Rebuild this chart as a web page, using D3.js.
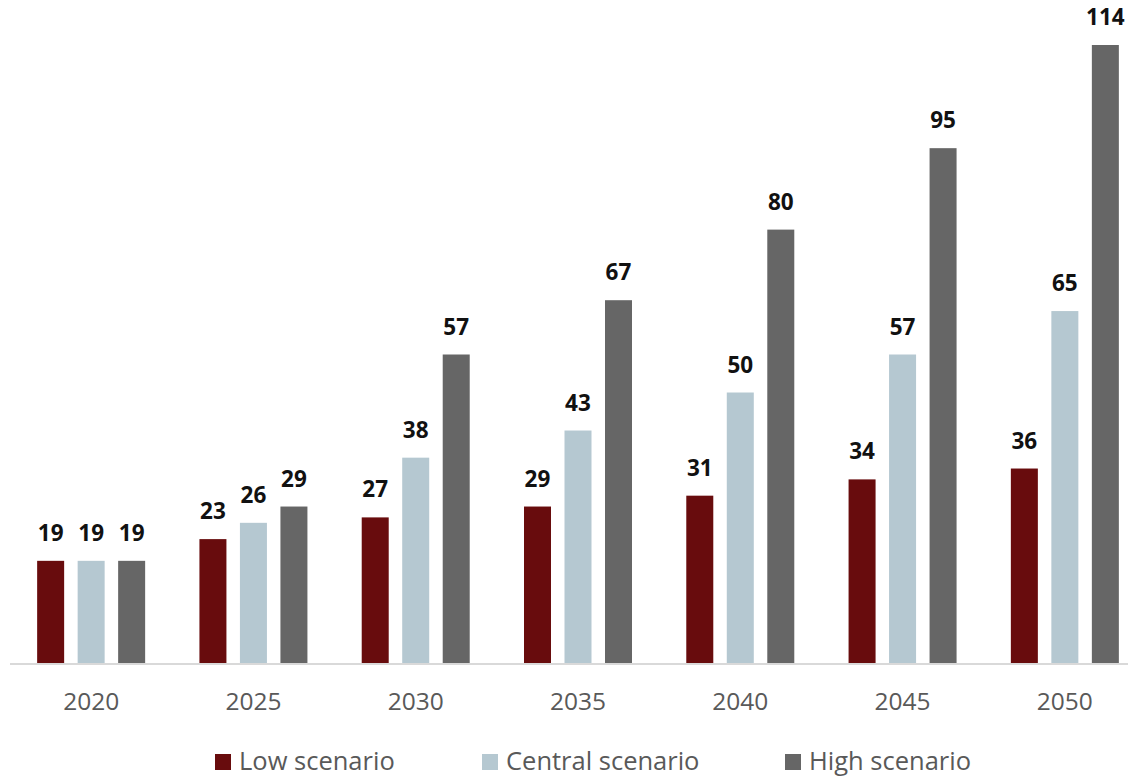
<!DOCTYPE html>
<html>
<head>
<meta charset="utf-8">
<style>
  body { margin: 0; background: #fff; }
  text { font-family: 'Open Sans', Lato, sans-serif; }
</style>
<script src="https://d3js.org/d3.v7.min.js"></script>
</head>
<body>
<svg id="chart" width="1128" height="776"></svg>
<script>
// data
var years = ["2020", "2025", "2030", "2035", "2040", "2045", "2050"];
var series = ["Low scenario", "Central scenario", "High scenario"];
var low = [19, 23, 27, 29, 31, 34, 36];
var central = [19, 26, 38, 43, 50, 57, 65];
var high = [19, 29, 57, 67, 80, 95, 114];
var colors = ["#680c0d", "#b5c8d1", "#666666"];

var values = [low, central, high];
var svg = d3.select("#chart");

var baseY = 664;
var x = d3.scaleBand().domain(years).range([10, 1146]);
var xs = d3.scaleBand().domain(series)
  .range([x.bandwidth()/2 - 54, x.bandwidth()/2 + 54])
  .paddingInner(1/3).paddingOuter(0);
var y = d3.scaleLinear().domain([0, 114]).range([baseY, 45]);

// bars + value labels
years.forEach(function(yr, i) {
  var g = svg.append("g").attr("transform", "translate(" + x(yr) + ",0)");
  series.forEach(function(s, j) {
    var v = values[j][i];
    g.append("rect")
      .attr("x", xs(s))
      .attr("y", y(v))
      .attr("width", xs.bandwidth())
      .attr("height", baseY - y(v))
      .attr("fill", colors[j]);
    g.append("text")
      .attr("x", xs(s) + xs.bandwidth()/2)
      .attr("y", y(v) - 20)
      .attr("text-anchor", "middle")
      .attr("font-size", 22.5)
      .attr("font-weight", "bold")
      .attr("fill", "#111")
      .text(v);
  });
});

// axis
var xAxis = d3.axisBottom(x).tickSize(0).tickPadding(0);
var ax = svg.append("g").attr("transform", "translate(0," + baseY + ")").call(xAxis);
ax.select(".domain").attr("d", "M10,0H1128").attr("stroke", "#d9d9d9").attr("stroke-width", 2);
ax.selectAll("text")
  .attr("y", 46)
  .attr("dy", null)
  .attr("font-size", 24.5)
  .attr("fill", "#595959")
  .style("font-family", "'Open Sans', Lato, sans-serif");

// legend
var legX = [215, 482, 785];
var leg = svg.append("g");
series.forEach(function(s, j) {
  leg.append("rect")
    .attr("x", legX[j]).attr("y", 754)
    .attr("width", 16).attr("height", 16)
    .attr("fill", colors[j]);
  leg.append("text")
    .attr("x", legX[j] + 24).attr("y", 770)
    .attr("font-size", 25.5)
    .attr("fill", "#595959")
    .text(s);
});
</script>
</body>
</html>
